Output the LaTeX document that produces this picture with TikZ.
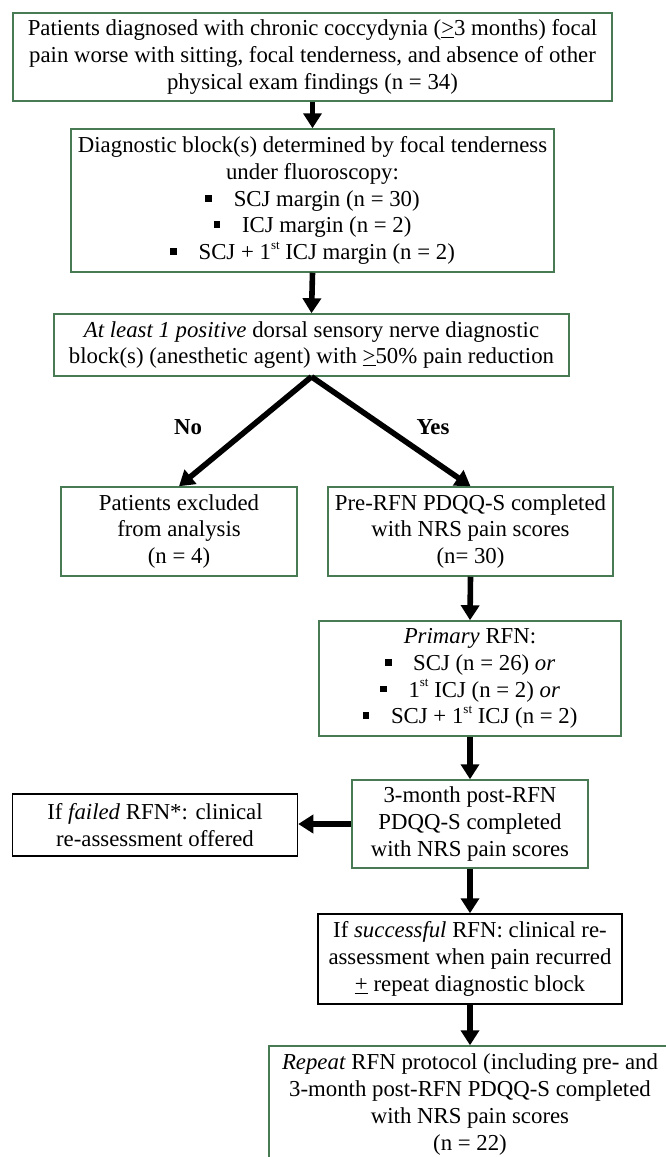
\documentclass[tikz,border=0pt]{standalone}
\usepackage{fontspec}
\setmainfont{Liberation Serif}
\usetikzlibrary{arrows.meta}
\definecolor{boxgreen}{RGB}{72,122,84}
\newcommand\sqb{\raisebox{0.2em}{\rule{0.3em}{0.3em}}\hspace{0.95em}}
\newcommand\supst[1]{\raisebox{0.45em}{\fontsize{13}{13}\selectfont #1}}
\newcommand\ulge{\underline{>}}
\begin{document}
\begin{tikzpicture}[x=1pt,y=-1pt,
  box/.style={draw=boxgreen, line width=1.5pt, align=center, inner sep=0pt,
    font=\fontsize{22.8}{26.8}\selectfont, text=black},
  blackbox/.style={box, draw=black},
  flow/.style={line width=5.6pt, -{Triangle[width=18pt,length=15pt]}},
  lbl/.style={font=\fontsize{22.8}{26.8}\selectfont\bfseries}]
\useasboundingbox (0,0) rectangle (665,1157);

\node[box, minimum width=599pt, minimum height=88pt] (b1) at (312.5,57)
  {Patients diagnosed with chronic coccydynia (\ulge3 months) focal\\
   pain worse with sitting, focal tenderness, and absence of other\\
   physical exam findings (n = 34)};

\node[box, minimum width=483pt, minimum height=143pt] (b2) at (312.5,200.5)
  {Diagnostic block(s) determined by focal tenderness\\
   under fluoroscopy:\\
   \sqb SCJ margin (n = 30)\\
   \sqb ICJ margin (n = 2)\\
   \sqb SCJ + 1\supst{st} ICJ margin (n = 2)};

\node[box, minimum width=515pt, minimum height=62pt] (b3) at (311.5,345)
  {\textit{At least 1 positive} dorsal sensory nerve diagnostic\\
   block(s) (anesthetic agent) with \ulge50\% pain reduction};

\node[box, minimum width=236pt, minimum height=89pt] (b4) at (179,531.5)
  {Patients excluded\\ from analysis\\ (n = 4)};

\node[box, minimum width=285pt, minimum height=89pt] (b5) at (470.5,531.5)
  {Pre-RFN PDQQ-S completed\\ with NRS pain scores\\ (n= 30)};

\node[box, minimum width=302pt, minimum height=115pt] (b6) at (470,678.5)
  {\textit{Primary} RFN:\\
   \sqb SCJ (n = 26) \textit{or}\\
   \sqb 1\supst{st} ICJ (n = 2) \textit{or}\\
   \sqb SCJ + 1\supst{st} ICJ (n = 2)};

\node[box, minimum width=236pt, minimum height=88pt] (b7) at (470,824)
  {3-month post-RFN\\ PDQQ-S completed\\ with NRS pain scores};

\node[blackbox, minimum width=285pt, minimum height=62pt] (b8) at (155,825)
  {If \textit{failed} RFN*: clinical\\ re-assessment offered};

\node[blackbox, minimum width=304pt, minimum height=90pt] (b9) at (470,959)
  {If \textit{successful} RFN: clinical re-\\
   assessment when pain recurred\\
   \underline{+} repeat diagnostic block};

\node[box, minimum width=402pt, minimum height=117pt] (b10) at (470,1104.5)
  {\textit{Repeat} RFN protocol (including pre- and\\
   3-month post-RFN PDQQ-S completed\\
   with NRS pain scores\\
   (n = 22)};

\draw[flow] (b1.south) -- (b2.north);
\draw[flow] (b2.south) -- (b3.north);
\draw[flow] (b3.south) -- (b4.north);
\draw[flow] (b3.south) -- (b5.north);
\draw[flow] (b5.south) -- (b6.north);
\draw[flow] (b6.south) -- (b7.north);
\draw[flow] (b7.west) -- (b7.west -| b8.east);
\draw[flow] (b7.south) -- (b9.north);
\draw[flow] (b9.south) -- (b10.north);

\node[lbl] (no) at (188,427) {No};
\node[lbl] (yes) at (433,427) {Yes};
\end{tikzpicture}
\end{document}
